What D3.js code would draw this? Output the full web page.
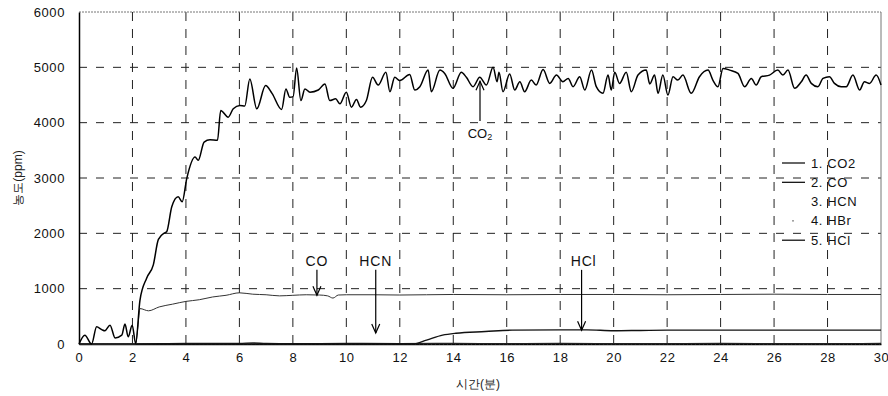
<!DOCTYPE html>
<html>
<head>
<meta charset="utf-8">
<script src="https://cdn.jsdelivr.net/npm/d3@7"></script>
<style>
  body { margin: 0; background: #fff; }
  text { font-family: "Liberation Sans", Arial, sans-serif; }
</style>
</head>
<body>
<svg id="chart" width="888" height="396"></svg>
<script>
// data (time in minutes, concentration in ppm)
const xTicks = [0, 2, 4, 6, 8, 10, 12, 14, 16, 18, 20, 22, 24, 26, 28, 30];
const yTicks = [0, 1000, 2000, 3000, 4000, 5000, 6000];

const co2Time = [0, 0.22, 0.47, 0.66, 0.85, 0.97, 1.16, 1.35, 1.6, 1.72, 1.84, 1.99, 2.12, 2.28, 2.53, 2.78, 2.97, 3.21, 3.28, 3.47, 3.71, 3.86, 4.03, 4.34, 4.46, 4.68, 4.9, 5.18, 5.3, 5.58, 5.77, 6.02, 6.2, 6.39, 6.65, 6.98, 7.22, 7.58, 7.74, 7.88, 8.01, 8.14, 8.3, 8.45, 8.64, 8.95, 9.2, 9.38, 9.6, 9.76, 10.0, 10.19, 10.38, 10.53, 10.75, 10.98, 11.19, 11.48, 11.63, 11.81, 12.0, 12.37, 12.56, 12.75, 13.06, 13.18, 13.5, 13.68, 13.99, 14.3, 14.49, 14.74, 14.99, 15.24, 15.49, 15.64, 15.71, 15.86, 16.11, 16.3, 16.49, 16.67, 16.92, 17.1, 17.36, 17.61, 17.86, 18.1, 18.3, 18.48, 18.73, 18.92, 19.17, 19.35, 19.6, 19.79, 19.91, 20.04, 20.22, 20.47, 20.66, 20.91, 21.22, 21.35, 21.53, 21.66, 21.84, 22.03, 22.22, 22.4, 22.59, 22.9, 23.21, 23.53, 23.71, 23.9, 24.09, 24.34, 24.65, 24.9, 25.15, 25.33, 25.52, 25.83, 26.14, 26.33, 26.52, 26.77, 27.02, 27.2, 27.39, 27.64, 27.83, 28.07, 28.26, 28.51, 28.7, 28.95, 29.2, 29.38, 29.57, 29.82, 30];
const co2Value = [0, 160, 0, 310, 260, 240, 340, 110, 160, 360, 130, 340, 10, 790, 1190, 1430, 1890, 2010, 2030, 2480, 2660, 2570, 2990, 3380, 3320, 3650, 3690, 3680, 4220, 4100, 4250, 4310, 4300, 4790, 4250, 4670, 4530, 4240, 4610, 4460, 4470, 4990, 4400, 4610, 4550, 4590, 4700, 4400, 4430, 4340, 4550, 4280, 4420, 4280, 4400, 4820, 4680, 4910, 4560, 4820, 4760, 4870, 4590, 4650, 4950, 4560, 4950, 4890, 4620, 4910, 4820, 4650, 4820, 4680, 5000, 4740, 4910, 4560, 4880, 4590, 4740, 4560, 4770, 4680, 4960, 4710, 4860, 4740, 4800, 4650, 4830, 4590, 4950, 4650, 4530, 4860, 4590, 4910, 4710, 4910, 4560, 4860, 4950, 4700, 4860, 4530, 4860, 4500, 4830, 4770, 4860, 4530, 4830, 4950, 4770, 4650, 4980, 4950, 4890, 4650, 4800, 4680, 4830, 4860, 4950, 4860, 4950, 4620, 4740, 4860, 4710, 4650, 4800, 4830, 4710, 4650, 4650, 4860, 4590, 4740, 4710, 4860, 4680];

const coTime = [0, 2.12, 2.2, 2.28, 2.6, 3.0, 3.5, 4.0, 4.5, 5.0, 5.5, 6.0, 6.5, 7.0, 7.5, 8.0, 8.5, 9.0, 9.3, 9.5, 9.7, 10, 11, 12, 13, 14, 16, 18, 20, 22, 24, 26, 28, 30];
const coValue = [0, 0, 300, 640, 600, 670, 720, 770, 800, 850, 880, 925, 900, 890, 870, 880, 890, 885, 870, 830, 885, 890, 890, 885, 890, 895, 890, 895, 895, 890, 895, 900, 895, 895];

const hcnTime = [0, 2, 4, 6, 6.5, 7, 8, 10, 12, 14, 16, 18, 20, 22, 24, 26, 28, 30];
const hcnValue = [0, 0, 10, 10, 20, 10, 5, 10, 5, 10, 5, 10, 5, 5, 10, 5, 5, 10];

const hbrTime = [0, 5, 10, 15, 20, 25, 30];
const hbrValue = [0, 0, 0, 0, 0, 0, 0];

const hclTime = [0, 12.5, 13, 13.6, 14.1, 15.2, 16.2, 18, 19, 20, 21, 22, 24, 26, 28, 30];
const hclValue = [0, 0, 70, 160, 195, 225, 250, 255, 255, 240, 245, 250, 250, 250, 250, 250];

const legendNames = ["1. CO2", "2. CO", "3. HCN", "4. HBr", "5. HCl"];

const margin = { top: 12, right: 7, bottom: 52, left: 79 };
const width = 888 - margin.left - margin.right;
const height = 396 - margin.top - margin.bottom;

const svg = d3.select("#chart");
const g = svg.append("g").attr("transform", "translate(" + margin.left + "," + margin.top + ")");

const x = d3.scaleLinear().domain([0, 30]).range([0, width]);
const y = d3.scaleLinear().domain([0, 6000]).range([height, 0]);

// grid
g.append("g").selectAll("line").data(yTicks.slice(1, -1)).enter().append("line")
  .attr("x1", 0).attr("x2", width)
  .attr("y1", d => y(d)).attr("y2", d => y(d))
  .attr("stroke", "#222").attr("stroke-width", 1).attr("stroke-dasharray", "8,9");
g.append("g").selectAll("line").data(xTicks.slice(1, -1)).enter().append("line")
  .attr("y1", 0).attr("y2", height)
  .attr("x1", d => x(d)).attr("x2", d => x(d))
  .attr("stroke", "#222").attr("stroke-width", 1).attr("stroke-dasharray", "9,8");

// frame
g.append("line").attr("x1", 0).attr("x2", width).attr("y1", 0).attr("y2", 0)
  .attr("stroke", "#777").attr("stroke-dasharray", "2,1");
g.append("line").attr("x1", width).attr("x2", width).attr("y1", 0).attr("y2", height)
  .attr("stroke", "#777");

// axes
const xAxis = g.append("g").attr("transform", "translate(0," + height + ")")
  .call(d3.axisBottom(x).tickValues(xTicks).tickFormat(d3.format("d")).tickSize(0).tickPadding(9));
const yAxis = g.append("g")
  .call(d3.axisLeft(y).tickValues(yTicks).tickFormat(d3.format("d")).tickSize(0).tickPadding(14));
[xAxis, yAxis].forEach(a => {
  a.select(".domain").attr("stroke", "#000").attr("stroke-width", 1.5);
  a.selectAll("text").attr("font-size", 13).attr("letter-spacing", 0.6)
    .attr("font-family", "'Liberation Sans', Arial, sans-serif").attr("fill", "#111");
});

svg.append("text").attr("x", 478).attr("y", 388).attr("text-anchor", "middle")
  .attr("font-size", 12).attr("font-family", "'Noto Sans CJK KR', sans-serif").attr("fill", "#222")
  .text("시간(분)");
svg.append("text").attr("transform", "translate(22,178) rotate(-90)").attr("text-anchor", "middle")
  .attr("font-size", 12).attr("font-family", "'Noto Sans CJK KR', sans-serif").attr("fill", "#222")
  .text("농도(ppm)");

// series
function series(t, v) { return t.map((d, i) => ({ t: d, v: v[i] })); }
const line = d3.line().x(d => x(d.t)).y(d => y(d.v)).curve(d3.curveMonotoneX);

g.append("path").datum(series(hbrTime, hbrValue)).attr("d", line)
  .attr("fill", "none").attr("stroke", "#555").attr("stroke-width", 1).attr("stroke-dasharray", "1,3");
g.append("path").datum(series(hcnTime, hcnValue)).attr("d", line)
  .attr("fill", "none").attr("stroke", "#222").attr("stroke-width", 1.4);
g.append("path").datum(series(hclTime, hclValue)).attr("d", line)
  .attr("fill", "none").attr("stroke", "#111").attr("stroke-width", 1.4);
g.append("path").datum(series(coTime, coValue)).attr("d", line)
  .attr("fill", "none").attr("stroke", "#333").attr("stroke-width", 1);
g.append("path").datum(series(co2Time, co2Value)).attr("d", line)
  .attr("fill", "none").attr("stroke", "#000").attr("stroke-width", 1.5);

// legend
const leg = svg.append("g").attr("transform", "translate(782,163)");
legendNames.forEach((name, i) => {
  const row = leg.append("g").attr("transform", "translate(0," + (i * 19.3) + ")");
  if (i === 0 || i === 1 || i === 4) {
    row.append("line").attr("x1", 0).attr("x2", 23).attr("y1", 0).attr("y2", 0)
      .attr("stroke", "#000").attr("stroke-width", 1.2);
  } else if (i === 3) {
    row.append("line").attr("x1", 10).attr("x2", 12).attr("y1", 0).attr("y2", 0)
      .attr("stroke", "#666").attr("stroke-width", 1);
  }
  row.append("text").attr("x", 29).attr("y", 4.5).attr("font-size", 13)
    .attr("letter-spacing", 0.6).attr("fill", "#111").text(name);
});

// annotations
function arrow(t, v0, v1) {
  const x0 = x(t), y0 = y(v0), y1 = y(v1);
  g.append("line").attr("x1", x0).attr("x2", x0).attr("y1", y0).attr("y2", y1)
    .attr("stroke", "#000").attr("stroke-width", 1.2);
  const dir = y1 > y0 ? -1 : 1;
  g.append("path").attr("d", "M" + (x0 - 4) + "," + (y1 + dir * 9) + "L" + x0 + "," + y1 + "L" + (x0 + 4) + "," + (y1 + dir * 9))
    .attr("fill", "none").attr("stroke", "#000").attr("stroke-width", 1.2);
}
const annoLabels = ["CO", "HCN", "HCl"];
const annoTime = [8.9, 11.1, 18.8];
const annoTarget = [880, 200, 250];
annoLabels.forEach((name, i) => {
  g.append("text").attr("x", x(annoTime[i]) + (i === 2 ? 2 : 0)).attr("y", y(1400) - 1).attr("text-anchor", "middle")
    .attr("font-size", 14).attr("letter-spacing", 0.8).attr("fill", "#111").text(name);
  arrow(annoTime[i], 1340, annoTarget[i]);
});
arrow(15.0, 4030, 4750);
const co2Label = g.append("text").attr("x", x(15.0)).attr("y", y(3730)).attr("text-anchor", "middle")
  .attr("font-size", 13).attr("fill", "#111");
co2Label.append("tspan").text("CO");
co2Label.append("tspan").attr("font-size", 9).attr("dy", 2).text("2");
</script>
</body>
</html>
